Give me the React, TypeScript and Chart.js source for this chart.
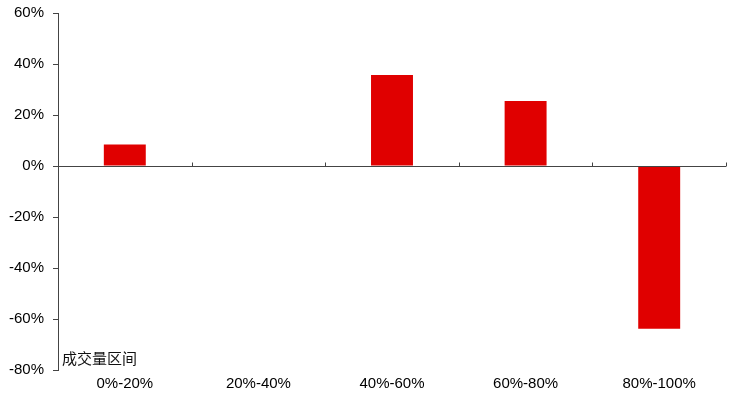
import React, { useEffect, useRef } from "react";
import { Chart, registerables } from "chart.js";

Chart.register(...registerables);

const categories = ["0%-20%", "20%-40%", "40%-60%", "60%-80%", "80%-100%"];
const values = [8.4, 0.2, 35.7, 25.5, -63.8];
const yTicks = { min: -80, max: 60, step: 20 };
const axisNote = "成交量区间";

const FONT = "'Liberation Sans', Arial, Helvetica, sans-serif";
const AXIS_COLOR = "#444";

const zeroAxisPlugin = {
  id: "zeroAxis",
  afterDatasetsDraw(chart: any) {
    const { ctx, scales, chartArea } = chart;
    const x = scales.x;
    const y = scales.y;
    const y0 = Math.round(y.getPixelForValue(0)) + 0.5;
    const step = x.getPixelForValue(1) - x.getPixelForValue(0);
    ctx.save();
    ctx.strokeStyle = AXIS_COLOR;
    ctx.lineWidth = 1;
    ctx.beginPath();
    ctx.moveTo(chartArea.left, y0);
    ctx.lineTo(chartArea.right, y0);
    for (let i = 0; i < categories.length; i++) {
      const px = Math.round(x.getPixelForValue(i) + step / 2) + 0.5;
      ctx.moveTo(px, y0);
      ctx.lineTo(px, y0 - 4);
    }
    ctx.stroke();
    ctx.fillStyle = "#111";
    ctx.font = `15px 'Noto Sans CJK SC', sans-serif`;
    ctx.textBaseline = "middle";
    ctx.textAlign = "left";
    ctx.fillText(axisNote, chartArea.left + 4, y.getPixelForValue(yTicks.min) - 12);
    ctx.restore();
  },
};

export default function App() {
  const ref = useRef<HTMLCanvasElement | null>(null);
  useEffect(() => {
    if (!ref.current) return;
    const chart = new Chart(ref.current, {
      type: "bar",
      data: {
        labels: categories,
        datasets: [
          {
            data: values,
            backgroundColor: "#E00000",
            borderWidth: 0,
            barPercentage: 0.314,
            categoryPercentage: 1,
          },
        ],
      },
      options: {
        animation: false,
        responsive: false,
        maintainAspectRatio: false,
        layout: { padding: { top: 13, right: 3, left: 0, bottom: 0 } },
        plugins: { legend: { display: false }, tooltip: { enabled: false } },
        scales: {
          x: {
            grid: { display: false, drawTicks: false },
            border: { display: false },
            ticks: {
              color: "#000",
              font: { family: FONT, size: 15 },
              padding: 5,
              maxRotation: 0,
            },
            afterFit(scale: any) {
              scale.height = 29;
            },
          },
          y: {
            min: yTicks.min,
            max: yTicks.max,
            ticks: {
              stepSize: yTicks.step,
              color: "#000",
              font: { family: FONT, size: 15 },
              padding: 9,
              callback: (v: any) => `${v}%`,
            },
            grid: {
              drawOnChartArea: false,
              drawTicks: true,
              tickLength: 5,
              color: AXIS_COLOR,
            },
            border: { display: true, color: AXIS_COLOR, width: 1 },
            afterFit(scale: any) {
              scale.width = 58;
              scale.paddingTop = 0;
              scale.paddingBottom = 0;
            },
          },
        },
      },
      plugins: [zeroAxisPlugin],
    });
    return () => chart.destroy();
  }, []);
  return (
    <div style={{ position: "fixed", left: 0, top: 0, width: 729, height: 399, background: "#fff" }}>
      <canvas ref={ref} width={729} height={399} style={{ display: "block" }} />
    </div>
  );
}
